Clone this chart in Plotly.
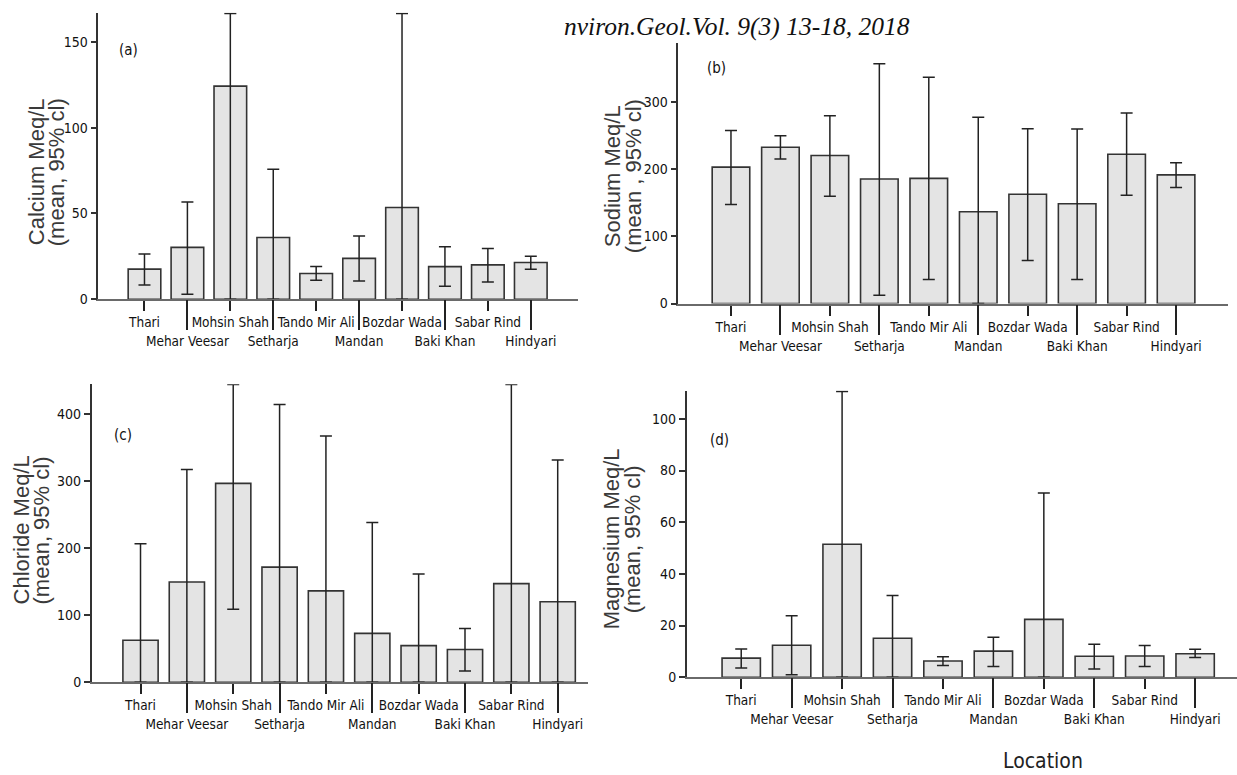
import plotly.graph_objects as go

locations = ["Thari", "Mehar Veesar", "Mohsin Shah", "Setharja", "Tando Mir Ali",
             "Mandan", "Bozdar Wada", "Baki Khan", "Sabar Rind", "Hindyari"]

calcium_mean = [17.5, 30.2, 124.2, 36.0, 15.0, 23.8, 53.5, 19.0, 20.0, 21.4]
calcium_upper = [26.3, 56.7, 166.5, 75.8, 19.0, 36.9, 166.5, 30.6, 29.5, 25.1]
calcium_lower = [8.3, 2.9, 0.0, 0.0, 11.0, 10.6, 0.0, 7.5, 10.0, 17.5]

sodium_mean = [203.1, 232.7, 220.4, 185.4, 186.4, 136.7, 162.8, 148.5, 222.3, 191.5]
sodium_upper = [257.7, 249.9, 279.4, 357.1, 337.0, 277.4, 260.2, 259.7, 283.8, 209.6]
sodium_lower = [147.6, 215.0, 159.9, 12.3, 35.9, 0.0, 63.9, 35.9, 161.3, 172.8]

chloride_mean = [62.4, 149.4, 296.3, 171.5, 136.1, 72.7, 54.5, 48.6, 146.9, 119.9]
chloride_upper = [206.4, 317.0, 443.5, 413.8, 367.0, 237.8, 161.2, 80.1, 443.5, 331.2]
chloride_lower = [0.0, 0.0, 108.6, 0.0, 0.0, 0.0, 0.0, 16.7, 0.0, 0.0]

magnesium_mean = [7.4, 12.4, 51.5, 15.1, 6.3, 10.1, 22.4, 8.1, 8.2, 9.1]
magnesium_upper = [10.9, 23.8, 110.6, 31.6, 7.9, 15.5, 71.3, 12.8, 12.3, 10.8]
magnesium_lower = [3.6, 1.0, 0.0, 0.0, 4.5, 4.2, 0.0, 3.2, 4.2, 7.6]

calcium_ticks = [0, 50, 100, 150]
sodium_ticks = [0, 100, 200, 300]
chloride_ticks = [0, 100, 200, 300, 400]
magnesium_ticks = [0, 20, 40, 60, 80, 100]

W, H = 1237, 775
NARROW = "DejaVu Sans Condensed, Liberation Sans Narrow, sans-serif"
SANS = "Liberation Sans, Arial, sans-serif"

panels = [
    dict(mean=calcium_mean, up=calcium_upper, lo=calcium_lower, ticks=calcium_ticks,
         xpx=(98.3, 578), ybot=302.3, ppu=1.733, yr=167, xr=(-1.076, 10.1),
         t1="Calcium Meq/L", t2="(mean, 95% cl)", tx=(36, 56), ty=174,
         letter="(a)", lx=-0.38, ly=145),
    dict(mean=sodium_mean, up=sodium_upper, lo=sodium_lower, ticks=sodium_ticks,
         xpx=(678.3, 1228), ybot=306.7, ppu=0.6787, yr=388, xr=(-1.065, 10.05),
         t1="Sodium Meq/L", t2="(mean , 95% cl)", tx=(612, 633), ty=178,
         letter="(b)", lx=-0.3, ly=350),
    dict(mean=chloride_mean, up=chloride_upper, lo=chloride_lower, ticks=chloride_ticks,
         xpx=(91.7, 588.3), ybot=689.3, ppu=0.678, yr=444, xr=(-1.053, 9.66),
         t1="Chloride Meq/L", t2="(mean, 95% cl)", tx=(21, 41), ty=536,
         letter="(c)", lx=-0.37, ly=368),
    dict(mean=magnesium_mean, up=magnesium_upper, lo=magnesium_lower, ticks=magnesium_ticks,
         xpx=(686.7, 1237), ybot=684.3, ppu=2.61, yr=111, xr=(-1.081, 9.83),
         t1="Magnesium Meq/L", t2="(mean, 95% cl)", tx=(611, 632), ty=545,
         letter="(d)", lx=-0.43, ly=92),
]

xs = list(range(len(locations)))
even = [i for i in xs if i % 2 == 0]
odd = [i for i in xs if i % 2 == 1]

fig = go.Figure()
layout = dict(width=W, height=H, margin=dict(l=0, r=0, t=0, b=0),
              paper_bgcolor="white", plot_bgcolor="white", showlegend=False)
annotations = []
xtickfont = dict(family=NARROW, size=13.5, color="#111111")
ytickfont = dict(family=NARROW, size=14, color="#111111")

for k, p in enumerate(panels):
    n = k + 1
    xa = "x" if n == 1 else f"x{n}"
    ya = "y" if n == 1 else f"y{n}"
    xo = f"x{n + 4}"
    plus = [u - m for u, m in zip(p["up"], p["mean"])]
    minus = [m - l for m, l in zip(p["mean"], p["lo"])]
    fig.add_trace(go.Bar(
        x=xs, y=p["mean"], xaxis=xa, yaxis=ya, width=0.76,
        marker=dict(color="#e4e4e4", line=dict(color="#333333", width=1.6)),
        error_y=dict(type="data", symmetric=False, array=plus, arrayminus=minus,
                     color="#222222", thickness=1.5, width=6),
        hoverinfo="skip"))
    # invisible carrier so the second (staggered) tick row is drawn
    fig.add_trace(go.Scatter(x=xs, y=p["mean"], xaxis=xo, yaxis=ya, mode="markers",
                             marker=dict(opacity=0), hoverinfo="skip"))
    ytop = p["ybot"] - p["yr"] * p["ppu"]
    xdom = [p["xpx"][0] / W, p["xpx"][1] / W]
    ydom = [1 - p["ybot"] / H, 1 - ytop / H]
    layout[f"xaxis{'' if n == 1 else n}"] = dict(
        domain=xdom, anchor=ya, range=list(p["xr"]), showgrid=False, zeroline=False,
        showline=True, linecolor="#6a6a6a", linewidth=2,
        tickmode="array", tickvals=even, ticktext=[locations[i] for i in even],
        ticks="outside", ticklen=10, tickwidth=1.5, tickcolor="#222222",
        tickangle=0, tickfont=xtickfont)
    layout[f"xaxis{n + 4}"] = dict(
        overlaying=xa, anchor=ya, side="bottom", range=list(p["xr"]), showgrid=False,
        zeroline=False, showline=False, tickmode="array", tickvals=odd,
        ticktext=[locations[i] for i in odd],
        ticks="outside", ticklen=30, tickwidth=1.5, tickcolor="#222222",
        tickangle=0, tickfont=xtickfont)
    layout[f"yaxis{'' if n == 1 else n}"] = dict(
        domain=ydom, anchor=xa, range=[0, p["yr"]], showgrid=False, zeroline=False,
        showline=True, linecolor="#333333", linewidth=1.5,
        tickmode="array", tickvals=p["ticks"], ticks="outside", ticklen=6,
        tickwidth=1.5, tickcolor="#333333", tickfont=ytickfont)
    for txt, px in zip((p["t1"], p["t2"]), p["tx"]):
        annotations.append(dict(text=txt, xref="paper", yref="paper", x=px / W, y=1 - p["ty"] / H,
                                xanchor="center", yanchor="middle", textangle=-90, showarrow=False,
                                font=dict(family=SANS, size=22, color="#3a3a3a")))
    annotations.append(dict(text=p["letter"], xref=xa, yref=ya, x=p["lx"], y=p["ly"],
                            xanchor="center", yanchor="middle", showarrow=False,
                            font=dict(family=NARROW, size=15, color="#111111")))

annotations.append(dict(text="<i>nviron.Geol.Vol. 9(3) 13-18, 2018</i>", xref="paper", yref="paper",
                        x=737 / W, y=1 - 27 / H, xanchor="center", yanchor="middle", showarrow=False,
                        font=dict(family="Liberation Serif, Times New Roman, serif", size=25.5,
                                  color="#111111")))
annotations.append(dict(text="Location", xref="paper", yref="paper",
                        x=1043 / W, y=1 - 769 / H, xanchor="center", yanchor="middle", showarrow=False,
                        font=dict(family=NARROW, size=21, color="#222222")))

layout["annotations"] = annotations
fig.update_layout(**layout)
fig.write_html("out.html", config={"displayModeBar": False},
               post_script="document.body.style.margin='0';document.body.style.overflow='hidden';")
